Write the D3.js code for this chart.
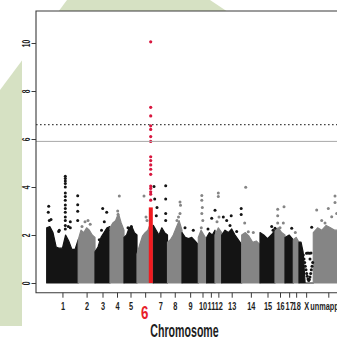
<!DOCTYPE html>
<html>
<head>
<meta charset="utf-8">
<script src="https://cdn.jsdelivr.net/npm/d3@7"></script>
<style>
  html, body { margin: 0; padding: 0; background: #fff; }
  svg { display: block; }
  text { font-family: "Liberation Sans", Arial, sans-serif; }
</style>
</head>
<body>
<div id="chart"></div>
<script>
const chromosomes = ['1','2','3','4','5','6','7','8','9','10','11','12','13','14','15','16','17','18','X','unmapped'];
const chrLengths = [315,168,150,140,130,163,142,145,163,84,83,67,200,183,150,100,83,57,143,300];

// dense body of each chromosome: top of the solid point cloud, sampled evenly along it
const bodyTops = [
  [2.3, 2.35, 2.1, 1.5, 1.45, 1.45, 2.0, 1.75, 1.4, 1.4, 1.8],
  [1.8, 2.2, 2.1, 2.3, 2.2, 2.0, 1.9],
  [1.3, 1.5, 1.9, 2.1, 2.3, 2.35],
  [2.3, 2.5, 2.6, 2.9, 2.5, 2.2],
  [1.9, 2.0, 2.3, 2.35, 2.1, 2.0],
  [1.2, 1.6, 1.95, 2.1, 2.2, 2.5, 2.3],
  [2.4, 2.2, 2.0, 2.3, 2.1, 2.0],
  [1.7, 1.8, 2.0, 2.3, 2.6, 2.2],
  [2.1, 1.9, 1.85, 1.9, 1.75, 1.6],
  [1.9, 2.2, 2.0, 1.8],
  [1.9, 2.1, 2.0, 2.2],
  [2.0, 2.3, 2.1],
  [2.0, 2.2, 2.1, 2.25, 2.0, 1.8, 1.6],
  [2.0, 2.1, 1.95, 1.7, 1.75, 1.6],
  [2.1, 2.0, 1.85, 2.0, 2.2],
  [2.2, 2.3, 2.1, 2.0],
  [1.9, 2.0, 1.8],
  [1.8, 1.9, 1.7],
  [1.7, 1.7, 1.3, 0, 0, 0, 0, 0],
  [2.1, 2.3, 2.2, 2.4, 2.3, 2.2, 2.2, 2.2]
];

// scattered SNPs above the body: [chromosome index, position (Mb), -log10 p]
const hits = [
  [0,20,3.2],[0,16,2.95],[0,26,2.6],[0,43,2.65],[0,120,2.15],[0,126,2.2],[0,236,2.3],[0,236,2.55],
  [0,216,2.35],[0,310,3.64],[0,310,3.26],[0,310,2.99],[0,310,2.6],
  [0,186,4.45],[0,186,4.35],[0,186,4.25],[0,186,4.15],[0,186,4.0],[0,186,3.75],[0,186,3.6],
  [0,186,3.45],[0,186,3.25],[0,186,3.1],[0,186,2.95],[0,186,2.75],[0,186,2.6],[0,186,2.4],[0,186,2.25],
  [1,68,2.55],[1,98,2.6],[1,38,2.35],[1,120,2.45],
  [2,77,3.1],[2,117,2.95],[2,93,2.55],[2,43,1.8],[2,127,2.2],[2,65,2.2],
  [3,93,3.62],[3,77,3.0],[3,80,2.85],
  [4,73,2.35],[4,40,2.3],
  [5,70,3.62],[5,90,2.75],[5,100,2.6],
  [6,7,4.02],[6,14,3.5],[6,124,4.05],[6,124,3.5],[6,124,2.9],[6,124,2.6],[6,37,3.15],[6,30,2.8],
  [7,125,3.37],[7,130,3.24],[7,125,2.9],[7,95,2.6],[7,110,2.75],
  [8,30,2.3],[8,113,2.2],
  [9,35,3.65],[9,35,3.45],[9,40,3.15],[9,35,2.9],[9,45,2.6],[9,30,2.3],
  [10,83,3.03],[10,50,2.7],[10,13,2.25],
  [11,33,3.75],[11,33,3.6],[11,40,2.75],[11,20,2.55],
  [12,16,2.75],[12,50,2.6],[12,83,2.4],[12,95,2.8],[12,150,2.15],[12,195,3.1],[12,195,2.85],
  [13,40,3.99],[13,66,2.14],[13,116,2.1],[13,30,2.5],
  [14,117,2.35],[14,150,2.28],[14,130,2.2],
  [15,27,3.07],[15,27,2.8],[15,27,2.5],[15,90,3.18],[15,83,2.5],[15,50,2.3],
  [16,67,2.28],[17,20,2.1],
  [18,43,1.17],[18,50,1.0],[18,57,0.85],[18,63,0.7],[18,70,0.55],[18,77,0.4],[18,83,0.28],
  [18,90,0.17],[18,97,0.1],[18,103,0.15],[18,110,0.25],[18,117,0.4],[18,123,0.55],[18,130,0.7],
  [18,137,0.85],[18,75,1.24],[18,90,1.25],[18,105,1.24],[18,120,1.25],[18,110,1.0],[18,127,2.32],
  [19,34,3.04],[19,150,3.1],[19,217,3.63],[19,217,3.35],[19,84,2.6],[19,117,2.5],[19,184,2.76],[19,234,2.9]
];

// the chromosome 6 signal, drawn in red
const peakChr = 5;
const peakSpan = [118, 158];
const peakBodyTop = 3.15;
const peakPos = 137;
const peakValues = [10.05, 7.32, 6.96, 6.55, 6.4, 6.1, 5.9, 5.26, 5.1, 4.92, 4.74, 4.53, 4.04, 3.94, 3.8, 3.7, 3.45];

// threshold lines
const suggestiveLine = 5.9;
const significantLine = 6.6;
const yTicks = [0, 2, 4, 6, 8, 10];

const W = 337, H = 340;
const svg = d3.select('#chart').append('svg').attr('width', W).attr('height', H);

// slide background
svg.append('rect').attr('width', W).attr('height', H).attr('fill', '#fff');
svg.append('path')
  .attr('d', 'M0,90 L67,0 L210,0 L240,20 L240,326 L0,326 Z')
  .attr('fill', '#d6e1c3');
svg.append('rect').attr('x', 22).attr('y', 11).attr('width', W - 22).attr('height', H - 11).attr('fill', '#fff');

// genome coordinates
const starts = [];
let acc = 0;
chrLengths.forEach(l => { starts.push(acc); acc += l; });
const total = acc;

const x = d3.scaleLinear().domain([0, total]).range([46.7, 343.3]);
const y = d3.scaleLinear().domain([0, 10]).range([283, 43]);

const frame = { left: 36, top: 11, right: 352, bottom: 292.7 };
const colorOf = i => (i % 2 === 0 ? '#141414' : '#858585');

const plot = svg.append('g');

// chromosome bodies
const area = d3.area()
  .x(d => x(d[0]))
  .y0(y(0))
  .y1(d => y(d[1]));

bodyTops.forEach((tops, i) => {
  const n = tops.length;
  const pts = tops.map((v, k) => [starts[i] + chrLengths[i] * k / (n - 1), v]);
  plot.append('path')
    .attr('d', area(pts))
    .attr('fill', colorOf(i))
    .attr('stroke', colorOf(i))
    .attr('stroke-width', 1.2)
    .attr('stroke-linejoin', 'round');
});

// red peak body
plot.append('rect')
  .attr('x', x(starts[peakChr] + peakSpan[0]))
  .attr('width', x(starts[peakChr] + peakSpan[1]) - x(starts[peakChr] + peakSpan[0]))
  .attr('y', y(peakBodyTop))
  .attr('height', y(0) - y(peakBodyTop))
  .attr('fill', '#f01a1f');

// scattered points
plot.selectAll('circle.hit')
  .data(hits)
  .join('circle')
  .attr('class', 'hit')
  .attr('cx', d => x(starts[d[0]] + d[1]))
  .attr('cy', d => y(d[2]))
  .attr('r', 1.5)
  .attr('fill', d => colorOf(d[0]));

plot.selectAll('circle.peak')
  .data(peakValues)
  .join('circle')
  .attr('class', 'peak')
  .attr('cx', x(starts[peakChr] + peakPos))
  .attr('cy', d => y(d))
  .attr('r', 1.6)
  .attr('fill', '#d8163e');

// threshold lines
svg.append('line')
  .attr('x1', frame.left).attr('x2', W)
  .attr('y1', y(suggestiveLine)).attr('y2', y(suggestiveLine))
  .attr('stroke', '#a8a8a8').attr('stroke-width', 1);
svg.append('line')
  .attr('x1', frame.left).attr('x2', W)
  .attr('y1', y(significantLine)).attr('y2', y(significantLine))
  .attr('stroke', '#444').attr('stroke-width', 1.4)
  .attr('stroke-dasharray', '1.6,2.4');

// frame
svg.append('path')
  .attr('d', `M${W},${frame.top} H${frame.left} V${frame.bottom} H${W}`)
  .attr('fill', 'none').attr('stroke', '#3a3a3a').attr('stroke-width', 1.1);

// y axis, labels parallel to the axis
const yAxis = svg.append('g')
  .attr('transform', `translate(${frame.left},0)`)
  .call(d3.axisLeft(y).tickValues(yTicks).tickSize(4.5).tickFormat(d3.format('d')));
yAxis.select('.domain').remove();
yAxis.selectAll('line').attr('stroke', '#3a3a3a');
yAxis.selectAll('text')
  .attr('x', 0).attr('y', 0).attr('dy', null)
  .attr('text-anchor', 'middle')
  .attr('font-size', 11)
  .attr('font-weight', 'bold')
  .attr('fill', '#1e1e1e')
  .attr('transform', 'translate(-6.3,0) rotate(-90) scale(0.6,1)');

// x axis: ticks at chromosome midpoints
const mids = chromosomes.map((c, i) => starts[i] + chrLengths[i] / 2);
const xAxis = svg.append('g')
  .attr('transform', `translate(0,${frame.bottom})`)
  .call(d3.axisBottom(x).tickValues(mids).tickSize(5).tickFormat((d, i) => chromosomes[i]));
xAxis.select('.domain').remove();
xAxis.selectAll('line').attr('stroke', '#3a3a3a');
xAxis.selectAll('.tick text')
  .attr('y', 0).attr('dy', null)
  .attr('font-size', 10.5)
  .attr('font-weight', 'bold')
  .attr('fill', '#1e1e1e')
  .attr('transform', 'translate(0,17.6) scale(0.7,1)')
  .filter((d, i) => i === peakChr)
  .attr('font-size', 19)
  .attr('fill', '#e8202a')
  .attr('transform', 'translate(-1,26) scale(0.7,1)');

// axis title
svg.append('text')
  .attr('text-anchor', 'middle')
  .attr('font-size', 18)
  .attr('font-weight', 'bold')
  .attr('fill', '#1e1e1e')
  .attr('transform', 'translate(184.5,337) scale(0.59,1)')
  .text('Chromosome');
</script>
</body>
</html>
